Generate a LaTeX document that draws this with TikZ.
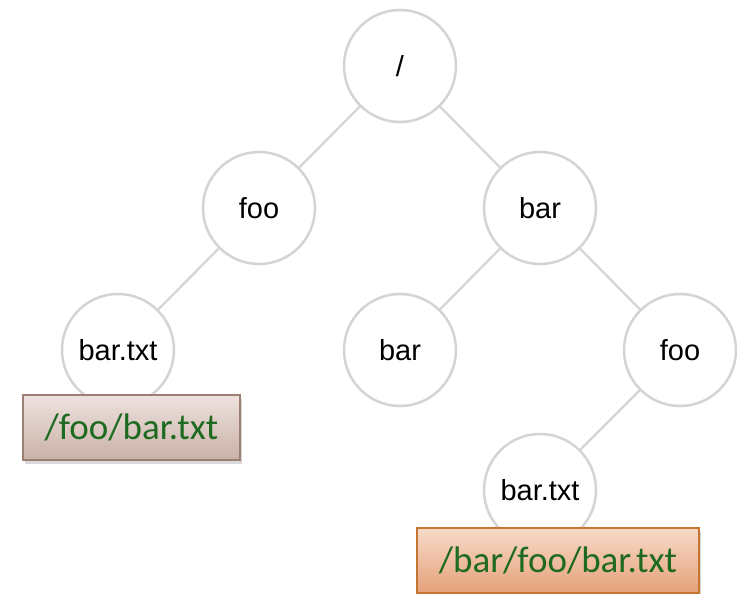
\documentclass[tikz,border=0pt]{standalone}
\usepackage{fontspec}
\setmainfont{Liberation Sans}
\newfontfamily\calib{Carlito}
\usetikzlibrary{shadows}
\definecolor{ring}{HTML}{D4D4D4}
\definecolor{pathgreen}{HTML}{1E6A20}
\tikzset{
  tnode/.style={circle, draw=ring, line width=2.5pt, fill=white, minimum size=112pt, inner sep=0pt, font=\fontsize{29}{32}\selectfont},
  edge/.style={draw=ring, line width=2.2pt},
  tag/.style={draw, line width=1.5pt, inner sep=0pt, font=\calib\fontsize{37}{42}\selectfont, text=pathgreen,
    drop shadow={shadow xshift=2pt, shadow yshift=-4pt, opacity=0.3, fill=gray}},
  tagA/.style={tag, draw={rgb,255:red,156;green,127;blue,114}, top color={rgb,255:red,238;green,226;blue,222}, bottom color={rgb,255:red,201;green,177;blue,168}},
  tagB/.style={tag, draw={rgb,255:red,196;green,118;blue,48}, top color={rgb,255:red,247;green,219;blue,201}, bottom color={rgb,255:red,229;green,160;blue,122}}
}
\begin{document}
\begin{tikzpicture}[x=1pt,y=-1pt]
\useasboundingbox (0,0) rectangle (737,594);
\node[tnode] (root) at (400,66) {/};
\node[tnode] (foo1) at (259,208) {foo};
\node[tnode] (bar1) at (540,208) {bar};
\node[tnode] (txt1) at (118,350) {bar.txt};
\node[tnode] (bar2) at (400,350) {bar};
\node[tnode] (foo2) at (680,350) {foo};
\node[tnode] (txt2) at (540,490) {bar.txt};
\draw[edge] (root) -- (foo1);
\draw[edge] (root) -- (bar1);
\draw[edge] (foo1) -- (txt1);
\draw[edge] (bar1) -- (bar2);
\draw[edge] (bar1) -- (foo2);
\draw[edge] (foo2) -- (txt2);
\node[tagA, minimum width=217pt, minimum height=65pt] (lab1) at (131.5,427.5) {/foo/bar.txt};
\node[tagB, minimum width=282pt, minimum height=65pt] (lab2) at (558,560.5) {/bar/foo/bar.txt};
\end{tikzpicture}
\end{document}
